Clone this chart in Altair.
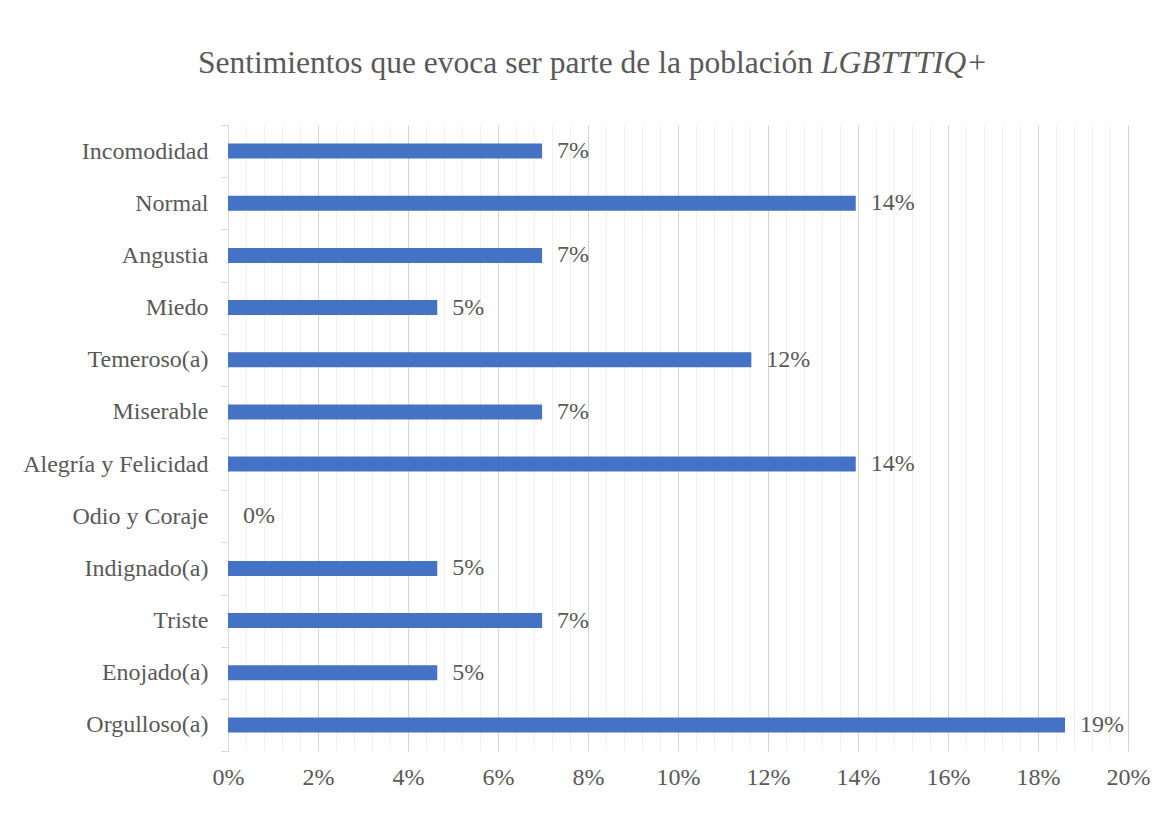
import altair as alt
import pandas as pd

categories = ["Incomodidad", "Normal", "Angustia", "Miedo", "Temeroso(a)", "Miserable",
              "Alegría y Felicidad", "Odio y Coraje", "Indignado(a)", "Triste",
              "Enojado(a)", "Orgulloso(a)"]
values = [6.98, 13.95, 6.98, 4.65, 11.63, 6.98, 13.95, 0.0, 4.65, 6.98, 4.65, 18.6]
labels = ["7%", "14%", "7%", "5%", "12%", "7%", "14%", "0%", "5%", "7%", "5%", "19%"]
title_plain = "Sentimientos que evoca ser parte de la población"
title_italic = "LGBTTTIQ+"
grid_values = [round(i * 0.4, 1) for i in range(51)]

FONT = "Liberation Serif"
TXT = "#595959"

df = pd.DataFrame({"cat": categories, "pct": values, "label": labels})

x_enc = alt.X(
    "pct:Q",
    scale=alt.Scale(domain=[0, 20], nice=False),
    axis=alt.Axis(
        values=grid_values,
        tickCount=200,
        labelExpr="datum.value % 2 === 0 ? datum.value + '%' : ''",
        labelOverlap=False,
        labelFlush=False,
        domain=False,
        ticks=False,
        grid=True,
        gridColor=alt.condition("datum.value % 2 === 0", alt.value("#d4d4d4"), alt.value("#f0f0f0")),
        gridWidth=1,
        labelFont=FONT,
        labelFontSize=24,
        labelColor=TXT,
        labelPadding=14,
        title=None,
    ),
)
y_enc = alt.Y(
    "cat:N",
    sort=categories,
    scale=alt.Scale(paddingInner=0, paddingOuter=0),
    axis=alt.Axis(
        title=None,
        domainColor="#d9d9d9",
        tickColor="#d9d9d9",
        tickSize=7,
        tickBand="extent",
        labelFont=FONT,
        labelFontSize=24,
        labelColor=TXT,
        labelPadding=13,
        labelLimit=400,
        grid=False,
    ),
)

bars = alt.Chart(df).mark_bar(color="#4472C4", size=15).encode(x=x_enc, y=y_enc)
text = alt.Chart(df).mark_text(
    align="left", baseline="middle", dx=15, font=FONT, fontSize=24, color=TXT
).encode(x="pct:Q", y=alt.Y("cat:N", sort=categories), text="label:N")

t1 = alt.Chart(pd.DataFrame({"t": [title_plain]})).mark_text(
    align="right", baseline="alphabetic", font=FONT, fontSize=31.5, color=TXT
).encode(x=alt.value(585), y=alt.value(-52), text="t:N")
t2 = alt.Chart(pd.DataFrame({"t": [title_italic]})).mark_text(
    align="left", baseline="alphabetic", font=FONT, fontSize=31.5, fontStyle="italic", color=TXT
).encode(x=alt.value(593), y=alt.value(-52), text="t:N")

chart = alt.layer(bars, text, t1, t2).properties(
    width=900,
    height=626,
    autosize=alt.AutoSizeParams(type="none"),
    padding={"left": 220, "top": 117, "right": 28, "bottom": 59},
).configure_view(stroke=None)

chart.save("out.html", embed_options={"renderer": "svg", "actions": False})
